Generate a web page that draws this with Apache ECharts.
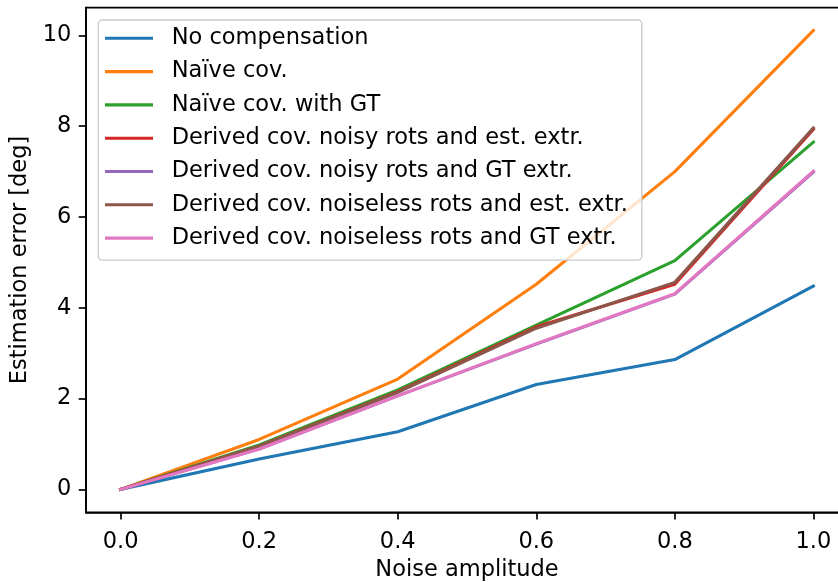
<!DOCTYPE html>
<html>
<head>
<meta charset="utf-8">
<script src="https://cdn.jsdelivr.net/npm/echarts@6/dist/echarts.min.js"></script>
<style>
  html, body { margin: 0; padding: 0; background: #ffffff; }
  #chart { width: 838px; height: 582px; }
</style>
</head>
<body>
<div id="chart"></div>
<script>
// Noise amplitude values on the x axis
const noiseAmplitude = [0.0, 0.2, 0.4, 0.6, 0.8, 1.0];

// Estimation error [deg] per method
const noCompensation       = [0, 0.67, 1.27, 2.31, 2.86, 4.48];
const naiveCov             = [0, 1.10, 2.43, 4.52, 7.00, 10.11];
const naiveCovGT           = [0, 0.98, 2.19, 3.62, 5.04, 7.65];
const derivedNoisyEst      = [0, 0.95, 2.15, 3.58, 4.52, 7.93];
const derivedNoisyGT       = [0, 0.89, 2.06, 3.20, 4.30, 6.99];
const derivedNoiselessEst  = [0, 0.95, 2.14, 3.55, 4.56, 7.96];
const derivedNoiselessGT   = [0, 0.89, 2.06, 3.21, 4.31, 7.01];

const seriesNames = [
  'No compensation',
  'Naïve cov.',
  'Naïve cov. with GT',
  'Derived cov. noisy rots and est. extr.',
  'Derived cov. noisy rots and GT extr.',
  'Derived cov. noiseless rots and est. extr.',
  'Derived cov. noiseless rots and GT extr.'
];
const seriesValues = [
  noCompensation, naiveCov, naiveCovGT,
  derivedNoisyEst, derivedNoisyGT, derivedNoiselessEst, derivedNoiselessGT
];
const colors = ['#1f77b4', '#ff7f0e', '#2ca02c', '#d62728', '#9467bd', '#8c564b', '#e377c2'];

// Tick labels
const xTicks = [0.0, 0.2, 0.4, 0.6, 0.8, 1.0];
const yTicks = [0, 2, 4, 6, 8, 10];

const FONT = 'DejaVu Sans';
const FS = 22.5;

const chart = echarts.init(document.getElementById('chart'), null, { renderer: 'canvas' });

const series = seriesNames.map((name, i) => ({
  name: name,
  type: 'line',
  data: noiseAmplitude.map((x, j) => [x, seriesValues[i][j]]),
  showSymbol: false,
  symbol: 'none',
  lineStyle: { width: 3.1, color: colors[i], cap: 'square', join: 'round' },
  itemStyle: { color: colors[i] },
  emphasis: { disabled: true },
  animation: false,
  z: 2 + i * 0.01
}));

chart.setOption({
  animation: false,
  backgroundColor: '#ffffff',
  textStyle: { fontFamily: FONT },
  grid: {
    left: 86,
    top: 7.7,
    width: 762,
    height: 504.6,
    outerBoundsMode: 'none',
    containLabel: false,
    show: true,
    borderColor: '#000000',
    borderWidth: 1.67,
    backgroundColor: 'transparent'
  },
  legend: {
    orient: 'vertical',
    left: 98.3,
    top: 20,
    data: seriesNames.map((n, i) => ({ name: n, icon: 'rect', itemStyle: { color: colors[i] } })),
    itemWidth: 48,
    itemHeight: 3.1,
    itemGap: 9.3,
    padding: [6.3, 14, 10, 6.7],
    backgroundColor: 'rgba(255,255,255,0.8)',
    borderColor: '#cccccc',
    borderWidth: 1.4,
    borderRadius: 4,
    selectedMode: false,
    textStyle: {
      fontFamily: FONT,
      fontSize: FS,
      color: '#000000',
      lineHeight: 24,
      padding: [0, 0, 0, 13.7]
    }
  },
  xAxis: {
    type: 'value',
    min: -0.05,
    max: 1.05,
    name: 'Noise amplitude',
    nameLocation: 'middle',
    nameGap: 44.5,
    nameTextStyle: { fontFamily: FONT, fontSize: FS, color: '#000000' },
    axisLine: { show: true, onZero: false, lineStyle: { color: '#000000', width: 1.67 } },
    axisTick: { show: true, length: 7.3, lineStyle: { color: '#000000', width: 1.67 }, customValues: xTicks },
    axisLabel: {
      fontFamily: FONT, fontSize: FS, color: '#000000', margin: 18,
      customValues: xTicks,
      formatter: v => Number(v).toFixed(1)
    },
    splitLine: { show: false }
  },
  yAxis: {
    type: 'value',
    min: -0.505,
    max: 10.61,
    name: 'Estimation error [deg]',
    nameLocation: 'middle',
    nameRotate: 90,
    nameGap: 51,
    nameTextStyle: { fontFamily: FONT, fontSize: FS, color: '#000000' },
    axisLine: { show: true, onZero: false, lineStyle: { color: '#000000', width: 1.67 } },
    axisTick: { show: true, length: 7.3, lineStyle: { color: '#000000', width: 1.67 }, customValues: yTicks },
    axisLabel: {
      fontFamily: FONT, fontSize: FS, color: '#000000', margin: 14.6,
      customValues: yTicks,
      formatter: v => String(Math.round(v))
    },
    splitLine: { show: false }
  },
  series: series
});
</script>
</body>
</html>
